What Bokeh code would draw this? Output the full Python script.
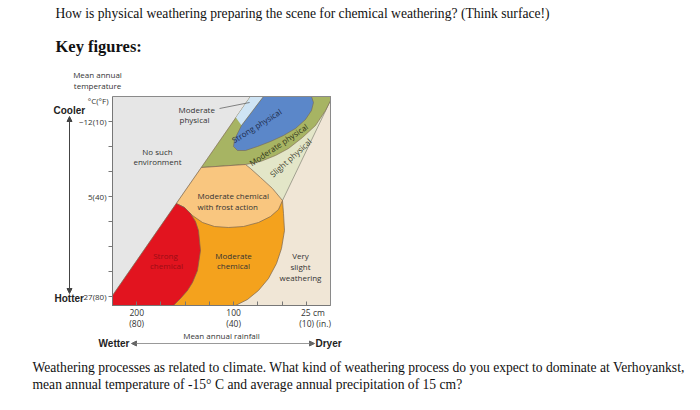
import math
from bokeh.plotting import figure
from bokeh.models import Range1d, Label, Arrow, NormalHead, FixedTicker, LinearAxis
from bokeh.embed import file_html
from bokeh.resources import INLINE

# ---- axis ticks: temperature (°F), rainfall (inches) ----
temp_ticks = [10, 20, 30, 40, 50, 60, 70, 80]
temp_tick_labels = {10: "−12(10)", 40: "5(40)", 80: "27(80)"}
rain_ticks = [80, 70, 60, 50, 40, 30, 20, 10]
NB = "\u00a0"
rain_tick_labels_cm = {80: "200", 40: "100", 10: NB * 6 + "25 cm"}
rain_tick_labels_in = {80: "(80)", 40: "(40)", 10: NB * 8 + "(10) (in.)"}

# diagram extent: rainfall 90 -> 0 in, temperature 0 -> 83.6 °F
rain_extent = [90, 0]
temp_extent = [0, 83.6]

# ---- weathering regions: rainfall (in) / temperature (°F) ----
no_env_rain = [90, 0, 0, 90]
no_env_temp = [0, 0, 83.6, 83.6]

very_slight_rain = [33.03, 0, 0, 90, 90]
very_slight_temp = [0, 0, 83.6, 83.6, 79.6]

slight_phys_rain = [0, 19.82, 23.95, 28.90, 33.03, 35.09, 28.90, 22.71, 17.34, 11.56, 6.19, 2.06]
slight_phys_temp = [1.6, 41.6, 36.8, 32.4, 28.8, 27.2, 26.0, 23.6, 20.8, 16.4, 11.6, 5.6]

moderate_phys_rain = [33.03, 0, 0, 2.06, 6.19, 11.56, 17.34, 22.71, 28.90, 35.09, 53.34]
moderate_phys_temp = [0, 0, 1.6, 5.6, 11.6, 16.4, 20.8, 23.6, 26.0, 27.2, 28.4]

moderate_phys_top_rain = [33.03, 27.66, 36.74, 39.06]
moderate_phys_top_temp = [0, 0, 11.6, 8.4]

strong_phys_rain = [27.66, 7.84, 7.02, 7.84, 10.32, 14.45, 19.40, 24.77, 30.14, 35.09, 38.40, 40.05, 39.63, 36.74]
strong_phys_temp = [0, 0, 2.4, 5.6, 9.2, 12.8, 15.6, 18.0, 20.0, 21.6, 21.6, 20.0, 17.2, 11.6]

moderate_chem_rain = [19.82, 19.40, 18.99, 20.23, 22.29, 25.60, 29.73, 34.27, 39.22, 65.23, 57.80, 28.90]
moderate_chem_temp = [41.6, 46.8, 53.6, 60.8, 66.8, 72.8, 77.6, 81.2, 83.6, 83.6, 45.6, 43.6]

frost_rain = [53.34, 35.09, 33.03, 28.90, 23.95, 19.82, 21.47, 24.77, 29.73, 35.92, 42.11, 47.89, 52.84, 56.97, 60.28, 63.66]
frost_temp = [28.4, 27.2, 28.8, 32.4, 36.8, 41.6, 45.2, 48.0, 50.4, 52.0, 52.4, 52.0, 50.4, 47.6, 44.4, 42.8]

strong_chem_rain = [90, 63.66, 60.28, 57.80, 55.73, 54.50, 53.67, 54.91, 56.97, 59.04, 61.93, 64.82, 90]
strong_chem_temp = [79.6, 42.8, 44.4, 46.8, 50.0, 53.6, 61.6, 69.6, 74.4, 77.6, 80.8, 83.6, 83.6]

slight_line_rain = [0, 19.82]
slight_line_temp = [1.6, 41.6]
leader_rain = [45.8, 33.4]
leader_temp = [4.8, 2.4]

# ---- page placement of the diagram frame (pixels) ----
FL, FR, FT, FB = 112, 330, 96, 305


def dx(px):
    return rain_extent[0] + (px - FL) * (rain_extent[1] - rain_extent[0]) / (FR - FL)


def dy(py):
    return temp_extent[0] + (py - FT) * (temp_extent[1] - temp_extent[0]) / (FB - FT)


p = figure(width=700, height=410, x_range=Range1d(dx(0), dx(700)),
           y_range=Range1d(dy(410), dy(0)), x_axis_type=None, y_axis_type=None,
           output_backend="svg", toolbar_location=None, min_border=0)
p.background_fill_color = "white"
p.border_fill_color = "white"
p.outline_line_color = None
p.grid.visible = False

edge = "#7a6650"
p.patch(no_env_rain, no_env_temp, fill_color="#e6e6e6", line_color=None)
p.patch(very_slight_rain, very_slight_temp, fill_color="#f0e6d6", line_color="#b9b0a0", line_width=0.6)
p.patch(slight_phys_rain, slight_phys_temp, fill_color="#e3e6c8", line_color=None)
p.line(slight_line_rain, slight_line_temp, line_color="#8f8f80", line_width=0.8)
p.patch(moderate_phys_rain, moderate_phys_temp, fill_color="#a7b463", line_color=edge, line_width=0.6)
p.patch(moderate_phys_top_rain, moderate_phys_top_temp, fill_color="#cfe4f4", line_color=None)
p.patch(strong_phys_rain, strong_phys_temp, fill_color="#5b87c9", line_color=edge, line_width=0.6)
p.patch(moderate_chem_rain, moderate_chem_temp, fill_color="#f4a21d", line_color=edge, line_width=0.7)
p.patch(frost_rain, frost_temp, fill_color="#f9c67f", line_color=edge, line_width=0.7)
p.patch(strong_chem_rain, strong_chem_temp, fill_color="#e2141f", line_color=edge, line_width=0.7)
p.line(leader_rain, leader_temp, line_color="#555555", line_width=0.7)
# top and right edges of the diagram frame
p.line([rain_extent[0], rain_extent[1], rain_extent[1]],
       [temp_extent[0], temp_extent[0], temp_extent[1]], line_color="#8a8a8a", line_width=1)

# ---- axes fixed onto the diagram frame ----
ax_col = "#777777"
yax = LinearAxis(fixed_location=rain_extent[0], bounds=(temp_extent[0], temp_extent[1]),
                 ticker=FixedTicker(ticks=temp_ticks))
yax.major_label_overrides = {t: temp_tick_labels.get(t, "") for t in temp_ticks}
yax.major_tick_in = 0
yax.major_tick_out = 4
yax.minor_tick_line_color = None
yax.axis_line_color = ax_col
yax.major_tick_line_color = ax_col
yax.major_label_standoff = 2
yax.major_label_text_font = "Open Sans"
yax.major_label_text_font_size = "8px"
yax.major_label_text_color = "#333333"
p.add_layout(yax, "left")

xax = LinearAxis(fixed_location=temp_extent[1], bounds=(rain_extent[1], rain_extent[0]),
                 ticker=FixedTicker(ticks=rain_ticks))
xax.major_label_overrides = {t: rain_tick_labels_cm.get(t, "") for t in rain_ticks}
xax.major_tick_in = 4
xax.major_tick_out = 0
xax.minor_tick_line_color = None
xax.axis_line_color = ax_col
xax.major_tick_line_color = ax_col
xax.major_label_standoff = 1
xax.major_label_text_font = "Open Sans"
xax.major_label_text_font_size = "8.5px"
xax.major_label_text_color = "#333333"
p.add_layout(xax, "below")

xax2 = LinearAxis(fixed_location=temp_extent[1], bounds=(rain_extent[1], rain_extent[0]),
                  ticker=FixedTicker(ticks=rain_ticks))
xax2.major_label_overrides = {t: rain_tick_labels_in.get(t, "") for t in rain_ticks}
xax2.major_tick_in = 0
xax2.major_tick_out = 0
xax2.minor_tick_line_color = None
xax2.axis_line_color = None
xax2.major_tick_line_color = None
xax2.major_label_standoff = 12
xax2.major_label_text_font = "Open Sans"
xax2.major_label_text_font_size = "8.5px"
xax2.major_label_text_color = "#333333"
p.add_layout(xax2, "below")


def lab(text, px, py, size=8, align="center", bold=False, color="#333333",
        font="Open Sans", angle=0.0):
    p.add_layout(Label(x=dx(px), y=dy(py), text=text, text_align=align,
                       text_baseline="middle", text_font_size=f"{size}px",
                       text_font=font, text_font_style="bold" if bold else "normal",
                       text_color=color, angle=angle, angle_units="rad"))


# ---- document text ----
serif = "Liberation Serif"
lab("How is physical weathering preparing the scene for chemical weathering? (Think surface!)",
    55, 13, size=13.6, align="left", font=serif, color="#111111")
lab("Key figures:", 55, 46, size=16.5, align="left", bold=True, font=serif, color="#111111")
lab("Weathering processes as related to climate. What kind of weathering process do you expect to dominate at Verhoyankst,",
    32, 367, size=13.6, align="left", font=serif, color="#111111")
lab("mean annual temperature of -15° C and average annual precipitation of 15 cm?",
    32, 384, size=13.6, align="left", font=serif, color="#111111")

# ---- diagram axis texts ----
lab("Mean annual", 97, 74, size=8)
lab("temperature", 97, 85, size=8)
lab("°C(°F)", 108, 100, size=8, align="right")
lab("Cooler", 53, 110, size=10, align="left", bold=True, font="Liberation Sans", color="#222222")
lab("Hotter", 54, 298, size=10, align="left", bold=True, font="Liberation Sans", color="#222222")
lab("Mean annual rainfall", 221, 335, size=8)
lab("Wetter", 129, 343, size=10, align="right", bold=True, font="Liberation Sans", color="#222222")
lab("Dryer", 315, 343, size=10, align="left", bold=True, font="Liberation Sans", color="#222222")

p.add_layout(Arrow(start=NormalHead(size=5, fill_color="#444444", line_color="#444444"),
                   end=NormalHead(size=5, fill_color="#444444", line_color="#444444"),
                   x_start=dx(69), y_start=dy(116), x_end=dx(69), y_end=dy(293),
                   line_color="#444444", line_width=1))
p.add_layout(Arrow(start=NormalHead(size=5, fill_color="#666666", line_color="#666666"),
                   end=NormalHead(size=5, fill_color="#666666", line_color="#666666"),
                   x_start=dx(131), y_start=dy(343), x_end=dx(314), y_end=dy(343),
                   line_color="#999999", line_width=1))

# ---- region labels ----
lab("Moderate", 178, 109, align="left")
lab("physical", 179, 119, align="left")
lab("No such", 157, 151)
lab("environment", 157, 161)
lab("Strong physical", 256, 125, color="#1c2b4a", angle=math.radians(32))
lab("Moderate physical", 278, 144, color="#2f3318", angle=math.radians(34))
lab("Slight physical", 290, 157, color="#3e3e30", angle=math.radians(42))
lab("Moderate chemical", 197, 195, align="left")
lab("with frost action", 197, 206, align="left")
lab("Strong", 165, 255, color="#9a0d15")
lab("chemical", 166, 265, color="#9a0d15")
lab("Moderate", 233, 255)
lab("chemical", 233, 265)
lab("Very", 300, 255)
lab("slight", 300, 266)
lab("weathering", 300, 277)

open("out.html", "w").write(file_html(p, INLINE))
